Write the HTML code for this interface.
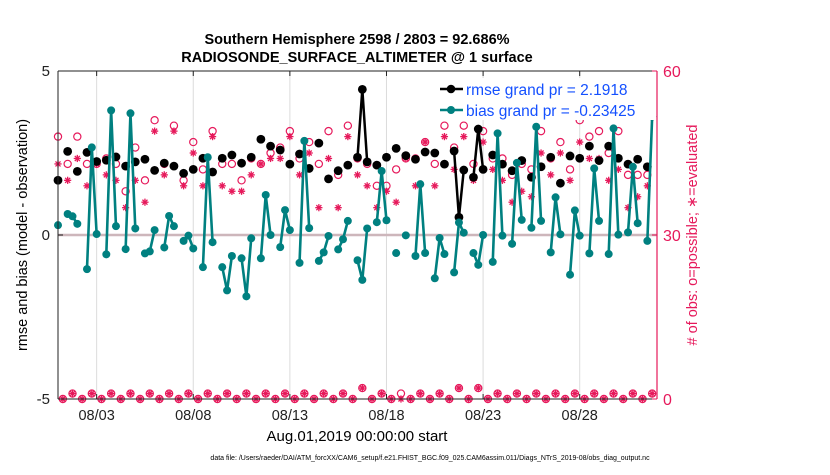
<!DOCTYPE html>
<html><head><meta charset="utf-8"><style>
body{margin:0;background:#fff;}
svg text{font-family:"Liberation Sans",sans-serif;}
</style></head><body>
<svg id="chart" width="830" height="470" viewBox="0 0 830 470" xmlns="http://www.w3.org/2000/svg">
<rect width="830" height="470" fill="#fff"/>
<text x="357" y="44" font-size="14.5" font-weight="bold" text-anchor="middle">Southern Hemisphere 2598 / 2803 = 92.686%</text>
<text x="357" y="62" font-size="14.5" font-weight="bold" text-anchor="middle">RADIOSONDE_SURFACE_ALTIMETER @ 1 surface</text>
<g id="grid"></g>
<g id="plot"></g>
<g id="axes"></g>
<text transform="translate(27,235) rotate(-90)" font-size="14.5" text-anchor="middle">rmse and bias (model - observation)</text>
<text transform="translate(697,235) rotate(-90)" font-size="14.5" text-anchor="middle" fill="#e6195b"># of obs: o=possible; ∗=evaluated</text>
<text x="357" y="441" font-size="15" text-anchor="middle">Aug.01,2019 00:00:00 start</text>
<text x="430" y="460" font-size="7" text-anchor="middle">data file: /Users/raeder/DAI/ATM_forcXX/CAM6_setup/f.e21.FHIST_BGC.f09_025.CAM6assim.011/Diags_NTrS_2019-08/obs_diag_output.nc</text>
<g id="legend">
<rect x="436" y="78" width="220" height="42" fill="#fff"/>
<line x1="440" y1="89" x2="463" y2="89" stroke="#000" stroke-width="2.5"/>
<circle cx="451" cy="89" r="4.3" fill="#000"/>
<text x="466" y="95" font-size="15.5" fill="#1450ff">rmse grand pr = 2.1918</text>
<line x1="440" y1="110" x2="463" y2="110" stroke="#008080" stroke-width="2.5"/>
<circle cx="451" cy="110" r="4" fill="#008080"/>
<text x="466" y="116" font-size="15.5" fill="#1450ff">bias grand pr = -0.23425</text>
</g>
</svg>
<script>
const xTickLabels = ["08/03","08/08","08/13","08/18","08/23","08/28"];
const xTickDays = [2,7,12,17,22,27];
const yTicksLeft = [-5,0,5];
const yTicksRight = [0,30,60];
const N = null;
const bias = [0.30,N,0.64,0.57,0.34,N,-1.04,2.67, 0.03,N,-0.59,3.80,0.27,N,-0.43,3.71,
 0.20,N,-0.56,-0.50,0.15,N,-0.38,0.58, 0.27,N,-0.18,-0.02,-0.41,N,-0.98,2.37,
 -0.22,N,-0.98,-1.69,-0.64,N,-0.71,-1.87, -0.10,N,-0.71,1.22,0.00,N,-0.37,0.76,
 0.15,N,-0.85,2.87,0.21,N,-0.79,-0.53, -0.03,N,-0.44,-0.13,0.43,N,-0.77,-1.37,
 0.20,N,0.39,1.95,0.45,N,-0.55,N, -0.01,N,-0.64,1.55,-0.55,N,-1.32,-0.09,
 -0.58,N,-1.14,0.38,0.07,N,-0.55,-0.91, 0.00,N,-0.82,3.10,-0.02,N,-0.27,2.20,
 0.46,N,0.22,3.30,0.43,N,-0.53,1.15, 0.02,N,-1.21,0.75,-0.02,N,-0.56,2.03,
 0.43,N,-0.58,3.25,0.01,N,0.08,2.08, 0.36,N,-0.18,3.61];
const rmse = [1.67,N,2.55,N,1.94,N,2.52,N, 2.24,N,2.28,N,2.38,N,2.10,N,
 2.23,N,2.31,N,1.97,N,2.19,N, 2.10,N,1.88,N,2.00,N,2.34,N,
 1.92,N,2.34,N,2.44,N,2.19,N, 2.37,N,2.92,N,2.71,N,2.59,N,
 2.16,N,2.47,N,2.03,N,2.80,N, 1.71,N,1.96,N,2.13,N,2.37,4.44,
 2.23,N,2.13,N,2.37,N,2.64,N, 2.42,N,2.31,N,2.53,N,2.50,N,
 2.16,N,2.56,0.54,1.98,N,1.76,3.23, 2.00,N,2.44,N,2.16,N,1.96,N,
 2.27,N,1.76,N,2.08,N,2.37,N, 1.58,N,2.41,N,2.34,N,2.71,N,
 2.27,N,2.71,N,2.34,N,2.16,N, 2.31,N,2.08,N];
const possible = [48,0,43,1,48,0,43,1, 43,0,44,1,43,0,38,1, 46,0,40,1,51,0,43,1, 50,0,40,1,47,0,42,1,
 49,0,43,1,43,0,40,1, 44,0,43,1,45,0,46,1, 49,0,44,1,47,0,43,1, 49,0,41,1,50,0,44,2,
 43,0,39,1,39,0,42,1, 44,0,44,1,47,0,43,1, 50,0,46,2,50,0,43,2, 49,0,44,1,44,0,41,1,
 43,0,42,1,49,0,44,1, 47,0,42,1,51,0,48,1, 49,0,45,1,49,0,41,1, 41,0,41,1];
const evaluated = [43,0,40,1,44,0,39,1, 43,0,41,1,40,0,35,1, 40,0,36,1,49,0,41,1, 49,0,39,1,45,0,39,1,
 48,0,39,1,38,0,38,1, 41,0,43,1,44,0,44,1, 48,0,41,1,45,0,35,1, 44,0,35,1,48,0,41,2,
 39,0,35,1,38,0,36,0, 44,0,39,1,47,0,39,1, 48,0,42,2,48,0,40,2, 47,0,42,1,40,0,36,1,
 38,0,37,1,45,0,41,1, 45,0,40,1,47,0,44,1, 44,0,40,1,42,0,35,1, 37,0,39,1];
const stepsPerDay = 4;

const L=58,R=657,T=71,B=399,NS="http://www.w3.org/2000/svg",RED="#e6195b",TEAL="#008080";
const xS = d => L + d*(R-L)/31;
const yL = v => B - (v+5)*(B-T)/10;
const yR = c => B - c*(B-T)/60;
function mk(tag, attrs, parent){const e=document.createElementNS(NS,tag);for(const k in attrs)e.setAttribute(k,attrs[k]);parent.appendChild(e);return e;}
const grid=document.getElementById('grid'),plot=document.getElementById('plot'),axes=document.getElementById('axes');

xTickDays.forEach((d,i)=>{
  const g=mk('line',{x1:xS(d),x2:xS(d),y1:T,y2:B,stroke:'#dcdcdc','stroke-width':1},grid);
  
  
  mk('line',{x1:xS(d),x2:xS(d),y1:B,y2:B-5,stroke:'#222'},axes);
  mk('line',{x1:xS(d),x2:xS(d),y1:T,y2:T+5,stroke:'#222'},axes);
  const t=mk('text',{x:xS(d),y:420,'font-size':14.5,'text-anchor':'middle',fill:'#222'},axes);
  t.textContent=xTickLabels[i];
  
  
});
const zl=mk('line',{x1:L,x2:R,y1:yL(0),y2:yL(0),stroke:'#cdb6bb','stroke-width':2.5},grid);



function series(vals, yf, color, w, cls){
  let seg=[];
  const flush=()=>{ if(seg.length>1){const p=mk('polyline',{points:seg.join(' '),fill:'none',stroke:color,'stroke-width':w,'stroke-linejoin':'round'},plot);
    
    } seg=[]; };
  vals.forEach((v,j)=>{ if(v===null){flush();return;} seg.push(xS(j/stepsPerDay)+','+yf(v)); });
  flush();
}
// obs counts
possible.forEach((c,j)=>{
  const e=mk('circle',{cx:xS(j/stepsPerDay),cy:yR(c),r:3.6,fill:'none',stroke:RED,'stroke-width':1.2},plot);
  
  
});
evaluated.forEach((c,j)=>{
  const x=xS(j/stepsPerDay),y=yR(c),s=3.6,g=mk('g',{stroke:RED,'stroke-width':1.3},plot);
  
  
  mk('line',{x1:x-s,x2:x+s,y1:y,y2:y},g);
  mk('line',{x1:x,x2:x,y1:y-s,y2:y+s},g);
  mk('line',{x1:x-s*.7,x2:x+s*.7,y1:y-s*.7,y2:y+s*.7},g);
  mk('line',{x1:x-s*.7,x2:x+s*.7,y1:y+s*.7,y2:y-s*.7},g);
});
series(rmse,yL,'#000',2.5,'rmse');
rmse.forEach((v,j)=>{ if(v===null)return;
  const e=mk('circle',{cx:xS(j/stepsPerDay),cy:yL(v),r:4.4,fill:'#000'},plot);
  
  
});
series(bias,yL,TEAL,2.6,'bias');
bias.forEach((v,j)=>{ if(v===null)return;
  const e=mk('circle',{cx:xS(j/stepsPerDay),cy:yL(v),r:4,fill:TEAL},plot);
  
  
});
// frame
mk('line',{x1:L,x2:L,y1:T,y2:B,stroke:'#222','stroke-width':1},axes);
mk('line',{x1:L,x2:R,y1:T,y2:T,stroke:'#222','stroke-width':1},axes);
mk('line',{x1:L,x2:R,y1:B,y2:B,stroke:'#222','stroke-width':1},axes);
mk('line',{x1:R,x2:R,y1:T,y2:B,stroke:RED,'stroke-width':1.2},axes);
yTicksLeft.forEach(v=>{
  mk('line',{x1:L,x2:L+5,y1:yL(v),y2:yL(v),stroke:'#222'},axes);
  const t=mk('text',{x:L-8,y:yL(v)+5,'font-size':15,'text-anchor':'end',fill:'#222'},axes);
  t.textContent=v;
  
  
});
yTicksRight.forEach(v=>{
  mk('line',{x1:R-5,x2:R,y1:yR(v),y2:yR(v),stroke:RED},axes);
  const t=mk('text',{x:R+6,y:yR(v)+6,'font-size':16,'text-anchor':'start',fill:RED},axes);
  t.textContent=v;
  
  
});
</script>
</body></html>
